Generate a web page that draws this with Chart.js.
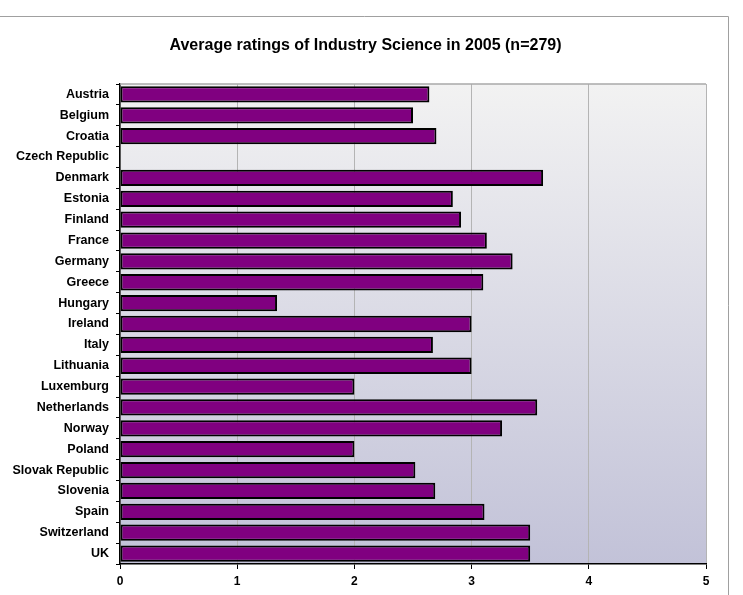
<!DOCTYPE html>
<html>
<head>
<meta charset="utf-8">
<script src="https://cdn.jsdelivr.net/npm/chart.js@4.4.0/dist/chart.umd.min.js"></script>
<style>
    html, body { margin: 0; padding: 0; background: #fff; }
    canvas { display: block; }
</style>
</head>
<body>
<canvas id="ratings" width="743" height="595"></canvas>
<script>
// === Data ===
var chartTitle = 'Average ratings of Industry Science in 2005 (n=279)';
var countries = ["Austria", "Belgium", "Croatia", "Czech Republic", "Denmark", "Estonia", "Finland",
    "France", "Germany", "Greece", "Hungary", "Ireland", "Italy", "Lithuania", "Luxemburg",
    "Netherlands", "Norway", "Poland", "Slovak Republic", "Slovenia", "Spain", "Switzerland", "UK"];
var ratings = [2.64, 2.5, 2.7, null, 3.61, 2.84, 2.91,
    3.13, 3.35, 3.1, 1.34, 3.0, 2.67, 3.0, 2.0,
    3.56, 3.26, 2.0, 2.52, 2.69, 3.11, 3.5, 3.5];
var xTicks = [0, 1, 2, 3, 4, 5];

var fontFamily = "'Liberation Sans', Arial, sans-serif";

// plot background gradient, borders, outer frame and the title
var framePlugin = {
    id: 'frame',
    beforeDraw: function(chart) {
        var ctx = chart.ctx, a = chart.chartArea;
        ctx.save();
        ctx.strokeStyle = '#a0a0a0';
        ctx.lineWidth = 1;
        ctx.beginPath();
        ctx.moveTo(0, 16.5);
        ctx.lineTo(728.5, 16.5);
        ctx.lineTo(728.5, chart.height);
        ctx.stroke();

        var grad = ctx.createLinearGradient(0, a.top, 0, a.bottom);
        grad.addColorStop(0, '#f2f2f2');
        grad.addColorStop(1, '#c2c2d8');
        ctx.fillStyle = grad;
        ctx.fillRect(a.left, a.top, a.right - a.left, a.bottom - a.top);

        ctx.fillStyle = '#000';
        ctx.font = 'bold 16px ' + fontFamily;
        ctx.textAlign = 'center';
        ctx.textBaseline = 'middle';
        ctx.fillText(chartTitle, 365.5, 46);
        ctx.restore();
    },
    afterDatasetsDraw: function(chart) {
        var ctx = chart.ctx, a = chart.chartArea;
        ctx.save();
        ctx.strokeStyle = '#a8a8a8';
        ctx.lineWidth = 1.5;
        ctx.beginPath();
        ctx.moveTo(a.left, a.top);
        ctx.lineTo(a.right, a.top);
        ctx.stroke();
        ctx.restore();
    }
};

var ctx = document.getElementById("ratings").getContext("2d");
var chart = new Chart(ctx, {
    type: 'bar',
    data: {
        labels: countries,
        datasets: [{
            data: ratings,
            backgroundColor: '#800080',
            borderColor: '#000000',
            borderWidth: 2,
            borderSkipped: false,
            categoryPercentage: 1.0,
            barPercentage: 0.78
        }]
    },
    options: {
        indexAxis: 'y',
        responsive: false,
        animation: false,
        layout: { padding: { left: 0, top: 84, right: 37, bottom: 0 } },
        plugins: {
            legend: { display: false },
            tooltip: { enabled: false },
            title: { display: false }
        },
        scales: {
            x: {
                min: 0,
                max: 5,
                afterBuildTicks: function(scale) {
                    scale.ticks = xTicks.map(function(v) { return { value: v }; });
                },
                afterFit: function(scale) { scale.height = 31; },
                grid: { color: '#b4b4b4', tickColor: '#000', tickLength: 5, lineWidth: 1 },
                border: { color: '#000', width: 1.5 },
                ticks: {
                    color: '#000',
                    padding: 5,
                    font: { family: fontFamily, size: 12, weight: 'bold' }
                }
            },
            y: {
                afterFit: function(scale) { scale.width = 120; },
                grid: { drawOnChartArea: false, color: '#000', tickLength: 4 },
                border: { color: '#000', width: 1.5 },
                ticks: {
                    color: '#000',
                    padding: 7,
                    autoSkip: false,
                    font: { family: fontFamily, size: 12.5, weight: 'bold' }
                }
            }
        }
    },
    plugins: [framePlugin]
});
</script>
</body>
</html>
